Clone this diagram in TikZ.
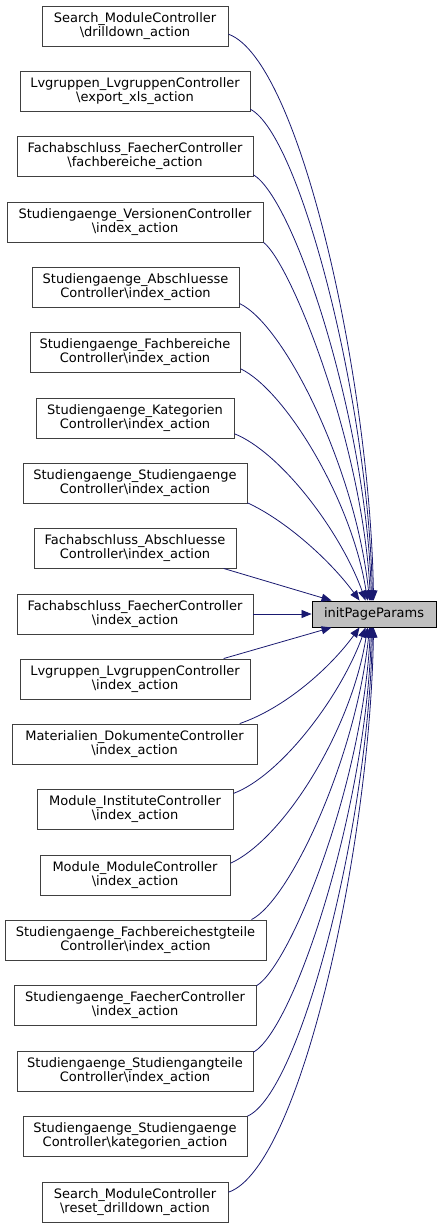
\documentclass[tikz,border=0pt]{standalone}
\usepackage{fontspec}
\setmainfont{DejaVu Sans}
\usetikzlibrary{arrows.meta,calc}
\definecolor{edgec}{HTML}{191970}
\definecolor{boxc}{HTML}{404040}
\definecolor{tfill}{HTML}{BFBFBF}
\tikzset{
 box/.style={draw=boxc, line width=0.9pt, fill=white, minimum height=40pt, inner sep=0pt, align=center, font=\fontsize{13}{14.5}\selectfont},
 tbox/.style={draw=black, line width=0.9pt, fill=tfill, minimum width=124pt, minimum height=26pt, inner sep=0pt, font=\fontsize{13}{14.5}\selectfont},
 edge/.style={draw=edgec, line width=0.8pt, -{Triangle[length=10pt,width=8pt]}},
}
\begin{document}
\begin{tikzpicture}[x=1pt,y=-1pt]
\useasboundingbox (0,0) rectangle (441,1228);
\node[tbox] (t) at (374,614) {initPageParams};
\node[box, minimum width=186pt] (s1) at (135,26) {Search\_ModuleController\\\textbackslash drilldown\_action};
\node[box, minimum width=230pt] (s2) at (135,91) {Lvgruppen\_LvgruppenController\\\textbackslash export\_xls\_action};
\node[box, minimum width=236pt] (s3) at (135,156) {Fachabschluss\_FaecherController\\\textbackslash fachbereiche\_action};
\node[box, minimum width=256pt] (s4) at (135,222) {Studiengaenge\_VersionenController\\\textbackslash index\_action};
\node[box, minimum width=207pt] (s5) at (135.5,287) {Studiengaenge\_Abschluesse\\Controller\textbackslash index\_action};
\node[box, minimum width=210pt] (s6) at (135,352) {Studiengaenge\_Fachbereiche\\Controller\textbackslash index\_action};
\node[box, minimum width=198pt] (s7) at (135,418) {Studiengaenge\_Kategorien\\Controller\textbackslash index\_action};
\node[box, minimum width=224pt] (s8) at (135,483) {Studiengaenge\_Studiengaenge\\Controller\textbackslash index\_action};
\node[box, minimum width=202pt] (s9) at (135,548) {Fachabschluss\_Abschluesse\\Controller\textbackslash index\_action};
\node[box, minimum width=236pt] (s10) at (135,614) {Fachabschluss\_FaecherController\\\textbackslash index\_action};
\node[box, minimum width=230pt] (s11) at (135,679) {Lvgruppen\_LvgruppenController\\\textbackslash index\_action};
\node[box, minimum width=245pt] (s12) at (134.5,744) {Materialien\_DokumenteController\\\textbackslash index\_action};
\node[box, minimum width=196pt] (s13) at (135,809) {Module\_InstituteController\\\textbackslash index\_action};
\node[box, minimum width=190pt] (s14) at (135,875) {Module\_ModuleController\\\textbackslash index\_action};
\node[box, minimum width=261pt] (s15) at (135.5,940) {Studiengaenge\_Fachbereichestgteile\\Controller\textbackslash index\_action};
\node[box, minimum width=242pt] (s16) at (135,1005) {Studiengaenge\_FaecherController\\\textbackslash index\_action};
\node[box, minimum width=236pt] (s17) at (135,1071) {Studiengaenge\_Studiengangteile\\Controller\textbackslash index\_action};
\node[box, minimum width=224pt] (s18) at (135,1136) {Studiengaenge\_Studiengaenge\\Controller\textbackslash kategorien\_action};
\node[box, minimum width=186pt] (s19) at (135,1202) {Search\_ModuleController\\\textbackslash reset\_drilldown\_action};
% upper edges
\draw[edge] (s1.-5.5) .. controls (300,60) and (370,380) .. ($(t.north west)+(62,0)$);
\draw[edge] (s2.-9.8) .. controls (300,135) and (368,400) .. ($(t.north west)+(61,0)$);
\draw[edge] (s3.-9.8) .. controls (295,200) and (366,420) .. ($(t.north west)+(60,0)$);
\draw[edge] (s4.-9.87) .. controls (290,262) and (362,440) .. ($(t.north west)+(59,0)$);
\draw[edge] (s5.-9.87) .. controls (285,325) and (356,470) .. ($(t.north west)+(58,0)$);
\draw[edge] (s6.-9.73) .. controls (285,390) and (352,500) .. ($(t.north west)+(56,0)$);
\draw[edge] (s7.-9.18) .. controls (280,452) and (340,530) .. ($(t.north west)+(54,0)$);
\draw[edge] (s8.-10.6) .. controls (285,520) and (330,560) .. ($(t.north west)+(48,0)$);
\draw[edge] (s9.-13.2) -- ($(t.north west)+(20,0)$);
\draw[edge] (s10) -- (t);
% lower edges
\draw[edge] (s11.13.7) -- ($(t.south west)+(20,0)$);
\draw[edge] (s12.11.25) .. controls (285,708) and (330,668) .. ($(t.south west)+(48,0)$);
\draw[edge] (s13.9.27) .. controls (280,776) and (340,698) .. ($(t.south west)+(54,0)$);
\draw[edge] (s14.7.8) .. controls (285,838) and (352,728) .. ($(t.south west)+(56,0)$);
\draw[edge] (s15.10.1) .. controls (290,900) and (356,758) .. ($(t.south west)+(58,0)$);
\draw[edge] (s16.9.95) .. controls (290,966) and (362,788) .. ($(t.south west)+(59,0)$);
\draw[edge] (s17.9.95) .. controls (295,1028) and (366,808) .. ($(t.south west)+(60,0)$);
\draw[edge] (s18.10.1) .. controls (300,1093) and (368,828) .. ($(t.south west)+(61,0)$);
\draw[edge] (s19.6.1) .. controls (300,1168) and (370,848) .. ($(t.south west)+(62,0)$);
\end{tikzpicture}
\end{document}
